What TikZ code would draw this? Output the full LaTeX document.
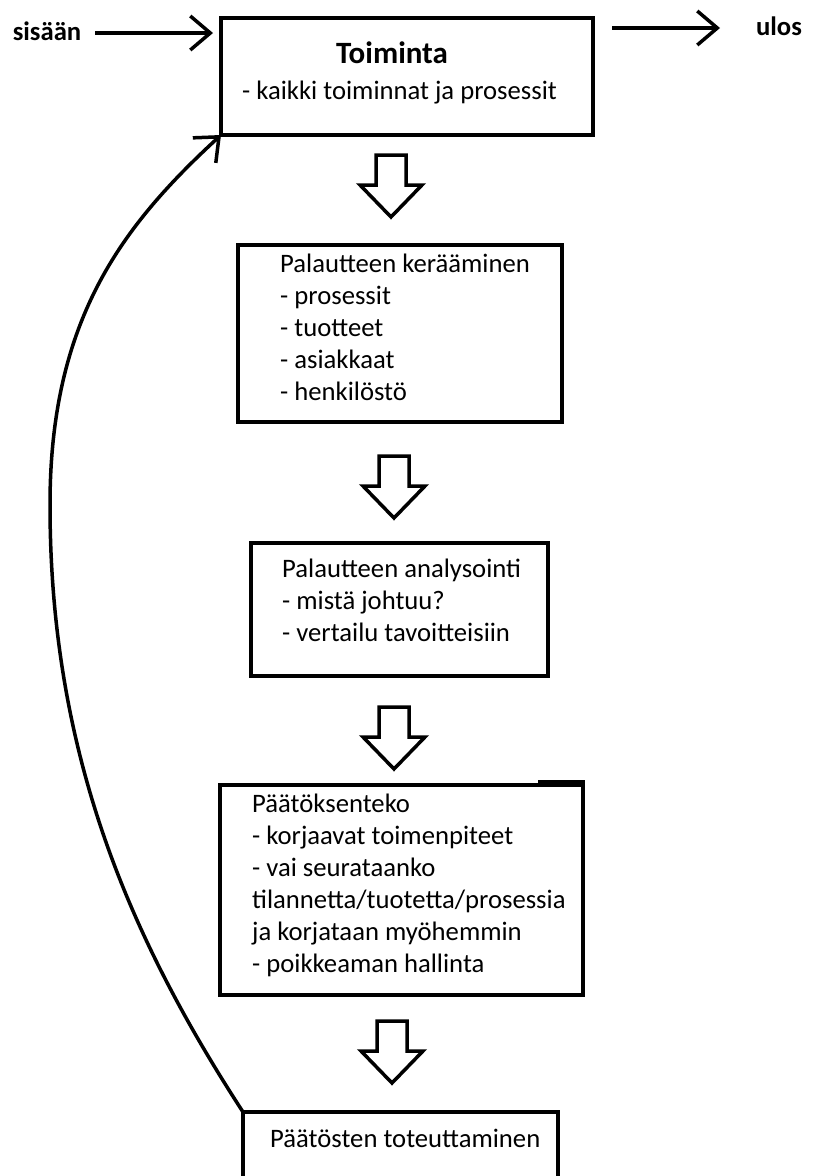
\documentclass[tikz,border=0pt]{standalone}
\usepackage{fontspec}
\setmainfont{Carlito}
\usetikzlibrary{arrows.meta,calc}
\begin{document}
\begin{tikzpicture}[x=1pt,y=-1pt,
  box/.style={draw,line width=4.5pt,inner sep=0pt,outer sep=0pt,anchor=north west},
  txt/.style={anchor=base west,align=left,inner sep=0pt,font=\fontsize{26.67}{32}\selectfont},
  ttl/.style={anchor=base,inner sep=0pt,font=\bfseries\fontsize{31}{36}\selectfont},
  lab/.style={anchor=base,inner sep=0pt,font=\bfseries\fontsize{26.67}{30}\selectfont},
  blockar/.style={draw,line width=3.5pt,fill=white,line join=miter},
  linkar/.style={line width=3.5pt,-{Straight Barb[length=20pt,width=34pt]}},
  pics/downarrow/.style={code={\draw[blockar] (-15,0)--(15,0)--(15,30)--(31,30)--(0,62)--(-31,30)--(-15,30)--cycle;}}
]
\useasboundingbox (0,0) rectangle (813,1176);

% boxes
\node[box,minimum width=372pt,minimum height=117pt] (a) at (221,18) {};
\node[box,minimum width=324pt,minimum height=177pt] (b) at (238,245) {};
\node[box,minimum width=297pt,minimum height=133pt] (c) at (251,543) {};
\node[box,minimum width=363pt,minimum height=210pt] (d) at (220,785) {};
\node[box,minimum width=315pt,minimum height=66pt] (e) at (243,1112) {};
\draw[line width=4.5pt] ($(d.north east)+(-45,-2.5)$) -- ($(d.north east)+(2.25,-2.5)$);

% texts (base anchor = baseline of the last line)
\node[ttl] (at) at (392,63) {Toiminta};
\node[txt] (ax) at (242,99) {- kaikki toiminnat ja prosessit};
\node[txt] (bt) at (280,400) {Palautteen kerääminen\\- prosessit\\- tuotteet\\- asiakkaat\\- henkilöstö};
\node[txt] (ct) at (282,641) {Palautteen analysointi\\- mistä johtuu?\\- vertailu tavoitteisiin};
\node[txt] (dt) at (252,972) {Päätöksenteko\\- korjaavat toimenpiteet\\- vai seurataanko\\tilannetta/tuotetta/prosessia\\ja korjataan myöhemmin\\- poikkeaman hallinta};
\node[txt] (et) at (270,1147) {Päätösten toteuttaminen};

% labels
\node[lab] (in) at (47,40) {sisään};
\node[lab] (out) at (779,35) {ulos};

% block arrows
\pic (p1) at (391,155) {downarrow};
\pic (p2) at (394,456) {downarrow};
\pic (p3) at (394,707) {downarrow};
\pic (p4) at (392,1021) {downarrow};

% in / out arrows
\coordinate (inS) at (95,33);
\coordinate (inE) at (213,33);
\draw[linkar] (inS) -- (inE);
\coordinate (outS) at ($(a.north east)+(19,10)$);
\coordinate (outE) at (720,28);
\draw[linkar] (outS) -- (outE);

% feedback loop
\coordinate (loopL) at (50,505);
\draw[linkar] (e.north west) .. controls (134,944) and (50,760) .. (loopL)
  .. controls (50,320) and (122,226) .. (a.south west);
\end{tikzpicture}
\end{document}
